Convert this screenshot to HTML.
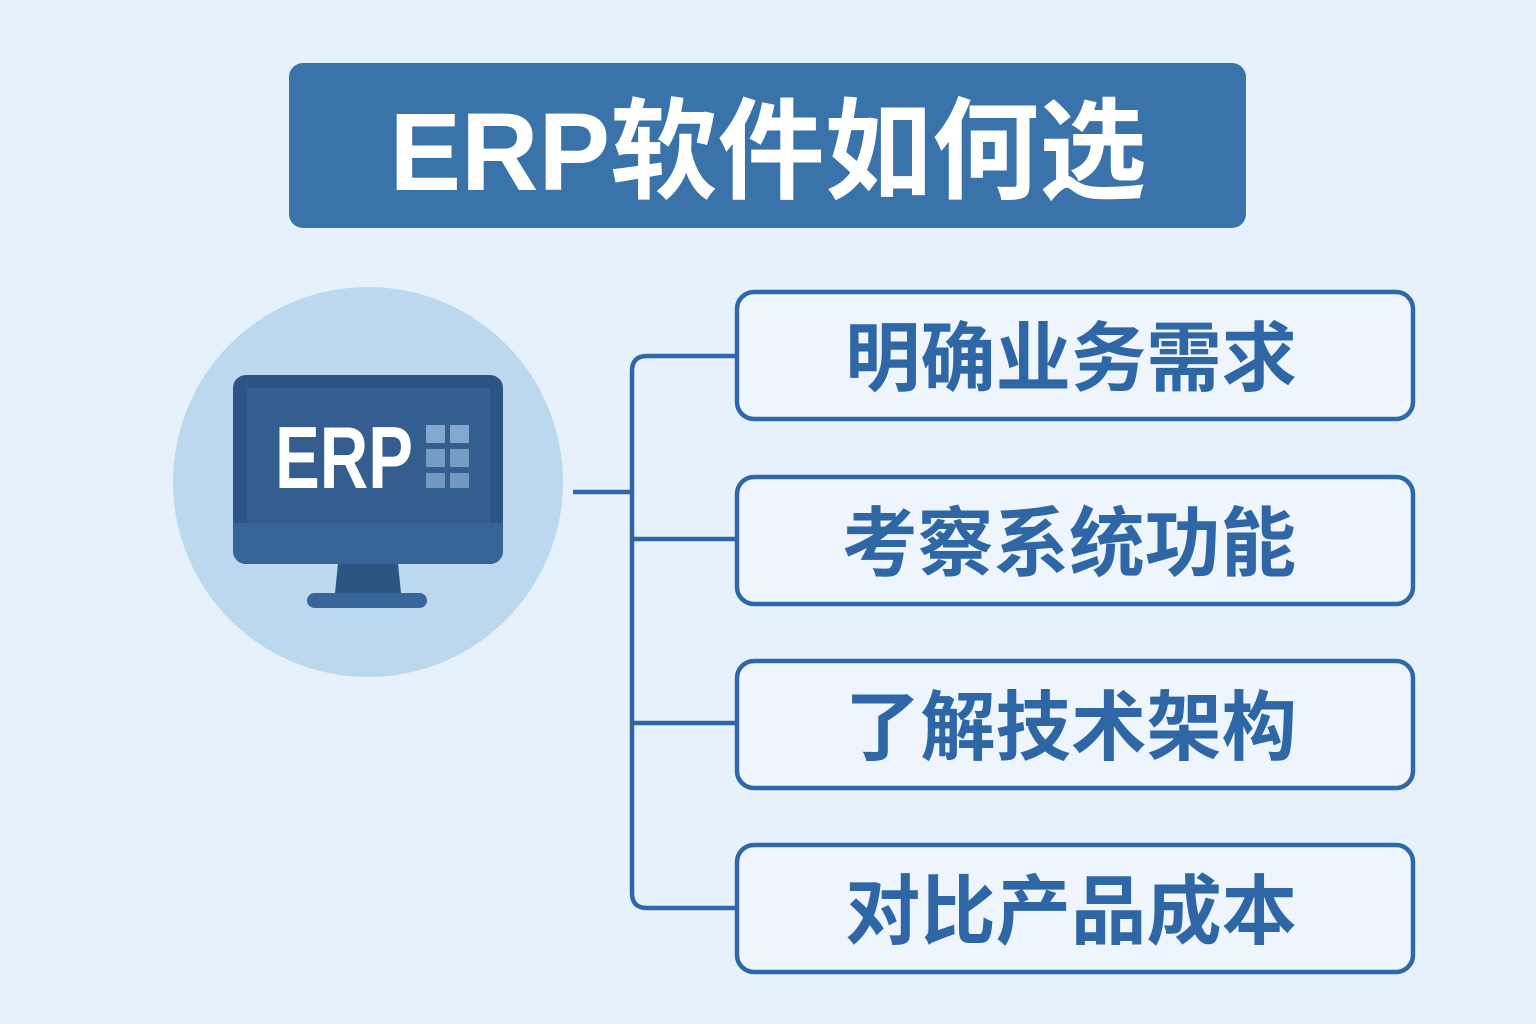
<!DOCTYPE html>
<html>
<head>
<meta charset="utf-8">
<style>
  html, body { margin: 0; padding: 0; }
  body { width: 1536px; height: 1024px; background: #e6f1fb; overflow: hidden; }
  svg { display: block; }
  .cjk { font-family: "Liberation Sans", "Noto Sans CJK SC", sans-serif; font-weight: 700; }
</style>
</head>
<body>
<svg width="1536" height="1024" viewBox="0 0 1536 1024" xmlns="http://www.w3.org/2000/svg">
  <rect x="0" y="0" width="1536" height="1024" fill="#e6f1fb"/>

  <!-- Title -->
  <rect x="289" y="63" width="957" height="165" rx="14" ry="14" fill="#3a72aa"/>
  <text class="cjk" x="768" y="190" text-anchor="middle" font-size="110" fill="#ffffff" textLength="757" lengthAdjust="spacingAndGlyphs">ERP软件如何选</text>

  <!-- Circle -->
  <circle cx="368" cy="482" r="195" fill="#bcd8ee"/>

  <!-- Monitor -->
  <rect x="233" y="375" width="270" height="189" rx="13" ry="13" fill="#2c5484"/>
  <rect x="233" y="523" width="270" height="41" rx="13" ry="13" fill="#386499"/>
  <rect x="233" y="523" width="270" height="14" fill="#386499"/>
  <rect x="247" y="388" width="243" height="135" fill="#345e8f"/>
  <polygon points="338,564 398,564 401,593 335,593" fill="#2c5583"/>
  <rect x="307" y="593" width="120" height="15" rx="7.5" ry="7.5" fill="#38669b"/>
  <text x="275" y="488" font-family="Liberation Sans, sans-serif" font-weight="700" font-size="88" fill="#ffffff" textLength="138" lengthAdjust="spacingAndGlyphs">ERP</text>
  <g fill="#84a7cd">
    <rect x="426" y="425" width="19" height="18"/>
    <rect x="450" y="425" width="19" height="18"/>
    <rect x="426" y="449" width="19" height="18" opacity="0.85"/>
    <rect x="450" y="449" width="19" height="18" opacity="0.85"/>
    <rect x="426" y="473" width="19" height="15" opacity="0.8"/>
    <rect x="450" y="473" width="19" height="15" opacity="0.8"/>
  </g>

  <!-- Connectors -->
  <g stroke="#2e66a8" stroke-width="4.5" fill="none">
    <line x1="573" y1="492" x2="632" y2="492"/>
    <path d="M737,356 L647,356 Q632,356 632,371 L632,893 Q632,908 647,908 L737,908"/>
    <line x1="632" y1="539" x2="737" y2="539"/>
    <line x1="632" y1="723" x2="737" y2="723"/>
  </g>

  <!-- Boxes -->
  <g fill="#eef5fc" stroke="#2f68a8" stroke-width="4.5">
    <rect x="737" y="292" width="676" height="127" rx="17" ry="17"/>
    <rect x="737" y="477" width="676" height="127" rx="17" ry="17"/>
    <rect x="737" y="661" width="676" height="127" rx="17" ry="17"/>
    <rect x="737" y="845" width="676" height="127" rx="17" ry="17"/>
  </g>
  <g class="cjk" font-size="76" fill="#2e66a6" text-anchor="middle">
    <text x="1071" y="385" textLength="452" lengthAdjust="spacingAndGlyphs">明确业务需求</text>
    <text x="1069" y="570" textLength="454" lengthAdjust="spacingAndGlyphs">考察系统功能</text>
    <text x="1071" y="754" textLength="452" lengthAdjust="spacingAndGlyphs">了解技术架构</text>
    <text x="1071" y="938" textLength="452" lengthAdjust="spacingAndGlyphs">对比产品成本</text>
  </g>
</svg>
</body>
</html>
